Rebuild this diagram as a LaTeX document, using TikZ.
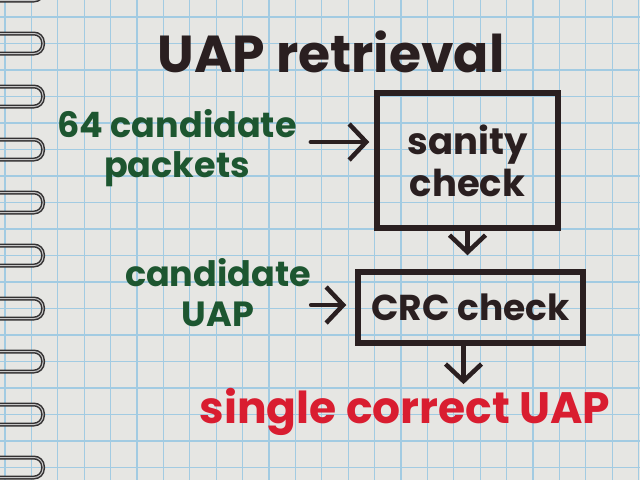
\documentclass[tikz,border=0pt]{standalone}
\usepackage{fontspec}
\setmainfont{Poppins}
\usetikzlibrary{arrows.meta}
\definecolor{paper}{HTML}{E6E6E3}
\definecolor{gridblue}{HTML}{A2CBE2}
\definecolor{ink}{HTML}{2A1F20}
\definecolor{greenink}{HTML}{1D5630}
\definecolor{redink}{HTML}{D91D30}
\definecolor{wire}{HTML}{333132}
\tikzset{box/.style={draw=ink, line width=5.5pt, inner sep=0pt, text=ink, align=center},
flow/.style={draw=ink, line width=4.5pt, line cap=round, -{Straight Barb[length=17pt,width=36pt,line width=4.5pt]}},
gridline/.style={draw=gridblue, line width=1.2pt},
ring/.style={draw=wire, line width=4pt, rounded corners=9pt},
shine/.style={draw=gray!45, line width=1pt, rounded corners=9pt},
note/.style={text=greenink, align=center, inner sep=0pt, font=\fontsize{35}{40}\selectfont\bfseries}}

\begin{document}
\begin{tikzpicture}[x=1pt,y=-1pt]
\useasboundingbox (0,0) rectangle (640,480);
\clip (0,0) rectangle (640,480);
\fill[paper] (0,0) rectangle (640,480);

% graph paper
\foreach \k in {0,...,24}
     \draw[gridline] ({5+26.4*\k},0) -- ({5+26.4*\k},480);
\foreach \k in {-1,...,18}
     \draw[gridline] (0,{17+26.5*\k}) -- (640,{17+26.5*\k});

% spiral binding
\foreach \k in {-1,...,8}{
     \draw[ring] (-12,{33.5+53*\k}) rectangle (43,{53.5+53*\k});
     \draw[shine] (-12,{33.5+53*\k}) rectangle (43,{53.5+53*\k});}

% title
\node[text=ink, inner sep=0pt, font=\fontsize{52}{56}\selectfont\bfseries] (title) at (331,52) {UAP retrieval};

% boxes
\node[box, minimum width=181pt, minimum height=135pt, font=\fontsize{37}{42}\selectfont\bfseries] (sanity) at (467.5,160.5) {sanity\\check};
\node[box, minimum width=225pt, minimum height=71pt, font=\fontsize{36}{42}\selectfont\bfseries] (crc) at (470.5,307.5) {CRC check};

% inputs
\node[note] (pk) at (177,148) {64 candidate\\packets};
\node[note] (cu) at (218,293) {candidate\\UAP};
\coordinate (pkout) at ([xshift=14pt,yshift=6pt]pk.east);
\coordinate (cuout) at ([yshift=-12pt]cu.east);
\draw[flow, shorten >=5pt] (pkout) -- (pkout -| sanity.west);
\draw[flow, shorten >=9pt] (cuout) -- (cuout -| crc.west);

% output
\node[text=redink, inner sep=0pt, font=\fontsize{44}{50}\selectfont\bfseries] (uap) at (405,412) {single correct UAP};
\draw[flow, shorten >=14pt] (sanity.south) -- (sanity.south |- crc.north);
\draw[flow, shorten >=4pt] ([xshift=-7pt]crc.south) -- ([xshift=-7pt]crc.south |- uap.north);
\end{tikzpicture}
\end{document}
